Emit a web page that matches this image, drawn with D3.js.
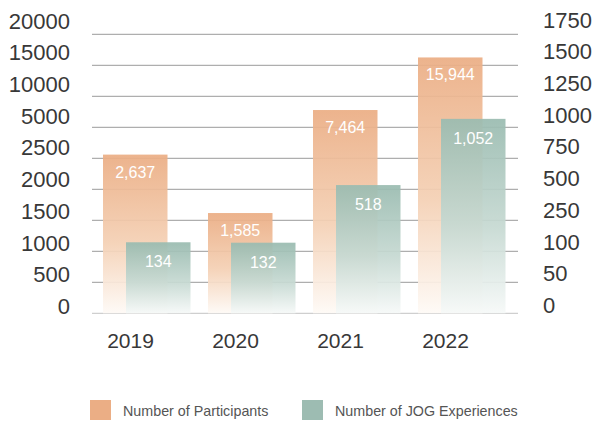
<!DOCTYPE html>
<html><head><meta charset="utf-8">
<script src="https://cdn.jsdelivr.net/npm/d3@7"></script>
<style>
html,body{margin:0;padding:0;background:#fff;}
svg{display:block;font-family:"Liberation Sans",Arial,Helvetica,sans-serif;}
</style></head>
<body><svg id="c" width="592" height="423"></svg>
<script>
const years = ["2019","2020","2021","2022"];
const participants = [2637, 1585, 7464, 15944];
const experiences = [134, 132, 518, 1052];
const leftTicks = [0,500,1000,1500,2000,2500,5000,10000,15000,20000];
const rightTicks = [0,50,100,250,500,750,1000,1250,1500,1750];
const seriesNames = ["Number of Participants","Number of JOG Experiences"];

const svg = d3.select("#c");
const yBottom = 313.3, yTop = 34.3;
const step = (yBottom - yTop) / (leftTicks.length - 1);
const rangeArr = leftTicks.map((d,i)=> yBottom - i*step);
const yL = d3.scaleLinear().domain(leftTicks).range(rangeArr);
const yR = d3.scaleLinear().domain(rightTicks).range(rangeArr);
const x = d3.scaleBand().domain(years).range([98, 518]);

const defs = svg.append("defs");
function barGrad(id, top, mid, bottom, y0){
  const g = defs.append("linearGradient").attr("id", id)
    .attr("gradientUnits","userSpaceOnUse")
    .attr("x1",0).attr("x2",0).attr("y1",y0).attr("y2",yBottom);
  g.append("stop").attr("offset","0%").attr("stop-color",top);
  g.append("stop").attr("offset","55%").attr("stop-color",mid);
  g.append("stop").attr("offset","100%").attr("stop-color",bottom);
}

// gridlines
svg.append("g").selectAll("line").data(leftTicks).join("line")
  .attr("x1",92).attr("x2",518)
  .attr("y1",d=>yL(d)).attr("y2",d=>yL(d))
  .attr("stroke",(d,i)=> i===0 ? "#c4c4c4" : "#9a9a9a").attr("stroke-width",1);

// left axis labels
const axL = svg.append("g").attr("transform","translate(70,0)")
  .call(d3.axisLeft(yL).tickValues(leftTicks).tickSize(0).tickPadding(0).tickFormat(d=>String(d)));
axL.select(".domain").remove();
axL.selectAll("text").attr("font-size",22).attr("fill","#383838").attr("font-family",null)
  .attr("transform",(d,i)=>`translate(0,${-(7 + i*0.67)})`);

const axR = svg.append("g").attr("transform","translate(543,0)")
  .call(d3.axisRight(yR).tickValues(rightTicks).tickSize(0).tickPadding(0).tickFormat(d=>String(d)));
axR.select(".domain").remove();
axR.selectAll("text").attr("font-size",22).attr("fill","#383838").attr("font-family",null)
  .attr("transform",(d,i)=>`translate(0,${-(8 + i*0.67)})`);

// bars
const bw = 64.5;
years.forEach((yr,i)=>{
  barGrad("go"+i, "#ebae85", "#f4d0b4", "#fefaf6", yL(participants[i]));
  barGrad("gt"+i, "#9bbcb1", "#c6d9d2", "#f6f9f8", yR(experiences[i]));
});
svg.append("g").selectAll("rect").data(participants).join("rect")
  .attr("x",(d,i)=>x(years[i])+5).attr("width",bw)
  .attr("y",d=>yL(d)-2).attr("height",d=>yBottom-yL(d)+2)
  .attr("fill",(d,i)=>`url(#go${i})`).attr("opacity",0.93);
svg.append("g").selectAll("rect").data(experiences).join("rect")
  .attr("x",(d,i)=>x(years[i])+28).attr("width",bw)
  .attr("y",d=>yR(d)-2).attr("height",d=>yBottom-yR(d)+2)
  .attr("fill",(d,i)=>`url(#gt${i})`).attr("opacity",0.93);

// value labels
const fmt = d3.format(",");
svg.append("g").selectAll("text").data(participants).join("text")
  .attr("x",(d,i)=>x(years[i])+5+bw/2).attr("y",d=>yL(d)+21)
  .attr("text-anchor","middle").attr("font-size",16).attr("fill","#fff")
  .text(d=>fmt(d));
svg.append("g").selectAll("text").data(experiences).join("text")
  .attr("x",(d,i)=>x(years[i])+28+bw/2).attr("y",d=>yR(d)+23)
  .attr("text-anchor","middle").attr("font-size",16).attr("fill","#fff")
  .text(d=>fmt(d));

// year labels
svg.append("g").selectAll("text").data(years).join("text")
  .attr("x",d=>x(d)+32.5).attr("y",348)
  .attr("text-anchor","middle").attr("font-size",21).attr("fill","#383838")
  .text(d=>d);

// legend
const legColors = ["#ebae85","#9dbcb2"];
const legX = [90, 302];
const lg = svg.append("g");
seriesNames.forEach((n,i)=>{
  lg.append("rect").attr("x",legX[i]).attr("y",400).attr("width",21).attr("height",20).attr("fill",legColors[i]);
  lg.append("text").attr("x",legX[i]+33).attr("y",416).attr("font-size",14.3).attr("fill","#555").text(n);
});
</script></body></html>
